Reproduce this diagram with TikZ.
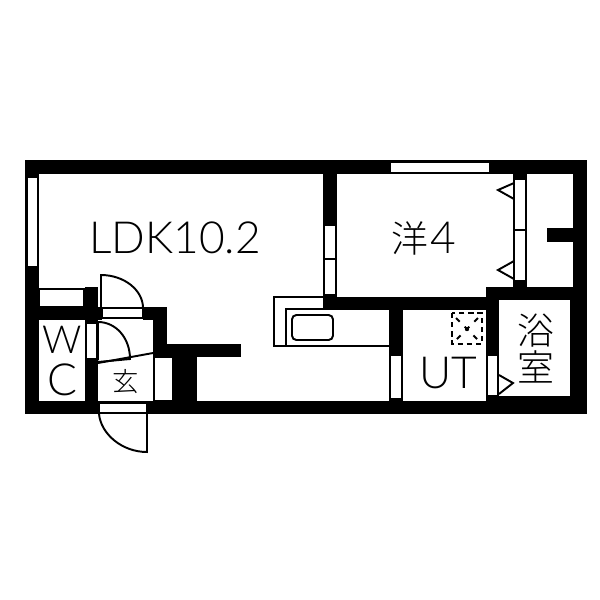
\documentclass[tikz,border=0pt]{standalone}
\usepackage{fontspec}
\setmainfont{Lato}[UprightFont={* Light}]
\newfontfamily\cjk{Noto Sans CJK JP}[UprightFont={* Light}]
\begin{document}
\begin{tikzpicture}[
                x=0.02cm, y=-0.02cm, % One unit is one pixel of the plan
                wall/.style={fill=black}, % Solid wall
                opening/.style={draw=black, fill=white, line width=1.1pt}, % Window or door frame in a wall
                thinline/.style={draw=black, line width=1.1pt}, % Doors and fittings
                roomlabel/.style={inner sep=0pt, font=\fontsize{25.2}{25.2}\selectfont}, % Room names
                roomkanji/.style={inner sep=0pt, font=\cjk\fontsize{21}{21}\selectfont} % Room names in kanji
                ]
                \useasboundingbox (0,0) rectangle (600,600);
                % Outer walls
                \fill[wall] (25,160) rectangle (587,174);
                \fill[wall] (25,401) rectangle (587,414);
                \fill[wall] (25,160) rectangle (39,414);
                \fill[wall] (573,160) rectangle (587,414);
                % Inner walls
                \fill[wall] (25,307) rectangle (102,320);
                \fill[wall] (85,287) rectangle (98,320);
                \fill[wall] (143,307) rectangle (167,320);
                \fill[wall] (153,307) rectangle (167,357);
                \fill[wall] (153,344) rectangle (241,357);
                \fill[wall] (173,357) rectangle (197,401);
                \fill[wall] (85,320) rectangle (98,401);
                \fill[wall] (323,174) rectangle (337,310);
                \fill[wall] (323,297) rectangle (499,310);
                \fill[wall] (389,310) rectangle (403,401);
                \fill[wall] (486,287) rectangle (573,300);
                \fill[wall] (486,287) rectangle (499,401);
                \fill[wall] (499,396) rectangle (573,401);
                \fill[wall] (570,300) rectangle (573,396);
                \fill[wall] (513,174) rectangle (527,287);
                \fill[wall] (547,228) rectangle (573,242);
                % Windows and door frames
                \draw[opening] (27,177) rectangle (38,267);
                \draw[opening] (39,289) rectangle (84,307);
                \draw[opening] (102,308) rectangle (143,318);
                \draw[opening] (86,323) rectangle (97,359);
                \draw[opening] (99,403) rectangle (147,413);
                \draw[opening] (154,357) rectangle (173,401);
                \draw[opening] (390,162) rectangle (490,173);
                \draw[opening] (324,225) rectangle (336,259);
                \draw[opening] (324,259) rectangle (336,295);
                \draw[opening] (514,179) rectangle (526,230);
                \draw[opening] (514,230) rectangle (526,281);
                \draw[opening] (390,355) rectangle (402,399);
                \draw[opening] (487,355) rectangle (498,396);
                % Doors
                \draw[thinline] (101,308) -- (101,275) .. controls (124,275) and (143,290) .. (143,308);
                \draw[thinline] (98,360) -- (98,322) .. controls (116,322) and (130,338) .. (130,359) -- (98,362);
                \draw[thinline] (98,363) -- (153,353);
                \draw[thinline] (99,414) .. controls (101,434) and (122,452) .. (147,452) -- (147,414);
                % Closet and bath doors
                \draw[thinline] (514,183) -- (498,190) -- (514,199);
                \draw[thinline] (514,261) -- (498,270) -- (514,279);
                \draw[thinline] (499,375) -- (513,383) -- (499,394);
                % Kitchen
                \draw[thinline] (323,297) -- (274,297) -- (274,346) -- (389,346);
                \draw[thinline] (286,346) -- (286,309) -- (389,309);
                \draw[thinline, rounded corners=2.5pt] (292,315) rectangle (333,340);
                % Washing machine place
                \draw[thinline, dash pattern=on 3pt off 2.2pt] (452,313) rectangle (482,344);
                \draw[thinline, dash pattern=on 3pt off 4pt] (456,318) -- (478,340);
                \draw[thinline, dash pattern=on 3pt off 4pt] (478,318) -- (456,340);
                \fill[wall] (467,329) circle (2);
                % Room names
                \node[roomlabel] (ldk) at (175,238) {LDK10.2};
                \node[roomkanji] (western) at (410,238) {洋};
                \node[roomlabel] (westernnum) at (443,238) {4};
                \node[roomlabel] (ut) at (448,373) {UT};
                \node[roomlabel, font=\fontsize{22}{22}\selectfont] (w) at (62,340) {W};
                \node[roomlabel] (c) at (62,380) {C};
                \node[roomkanji, font=\cjk\fontsize{15}{15}\selectfont] (entrance) at (126,382) {玄};
                \node[roomkanji] (bath) at (536,331) {浴};
                \node[roomkanji] (room) at (536,367) {室};
            \end{tikzpicture}
\end{document}
